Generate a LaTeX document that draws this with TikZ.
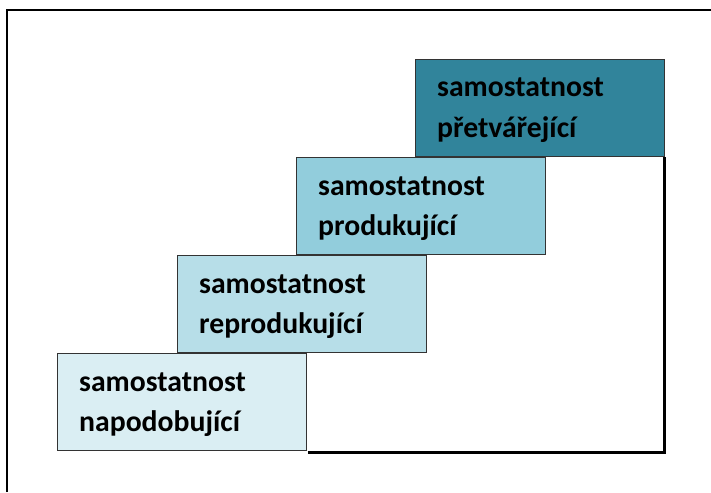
\documentclass[tikz,border=0pt]{standalone}
\usepackage{fontspec}
\setmainfont{Carlito}
\usetikzlibrary{calc}
\definecolor{c1}{HTML}{DAEEF3}
\definecolor{c2}{HTML}{B7DEE8}
\definecolor{c3}{HTML}{92CDDC}
\definecolor{c4}{HTML}{31849B}
\definecolor{edge}{HTML}{333333}
\tikzset{
  stepbox/.style={draw=edge, line width=1.2pt, rectangle, inner sep=0pt,
    minimum width=249pt, minimum height=97pt, anchor=north west},
  lbl/.style={font=\fontsize{29.7}{34}\selectfont\bfseries, inner sep=0pt, anchor=base west},
  shadowline/.style={line width=3pt, black},
  frameline/.style={line width=1.5pt, black}
}
\begin{document}
\begin{tikzpicture}[x=1pt,y=-1pt]
\useasboundingbox (0,0) rectangle (711,492);
\fill[white] (0,0) rectangle (711,492);
\draw[frameline] (7,492) -- (7,10) -- (711,10);
\node[stepbox, fill=c4] (b4) at (415,59) {};
\node[stepbox, fill=c3] (b3) at (296,157) {};
\node[stepbox, fill=c2] (b2) at (177,255) {};
\node[stepbox, fill=c1] (b1) at (57,353) {};
\coordinate (corner) at (b4.east |- b1.south);
\draw[shadowline] ($(b4.south east)+(-1,0)$) -- ($(corner)+(-1,1)$) -- ($(b1.south east)+(1,1)$);
\foreach \b/\t in {b4/přetvářející, b3/produkující, b2/reprodukující, b1/napodobující}{
  \node[lbl] (\b a) at ($(\b.north west)+(22,38)$) {samostatnost};
  \node[lbl] (\b b) at ($(\b.north west)+(22,78)$) {\t};
}
\end{tikzpicture}
\end{document}
